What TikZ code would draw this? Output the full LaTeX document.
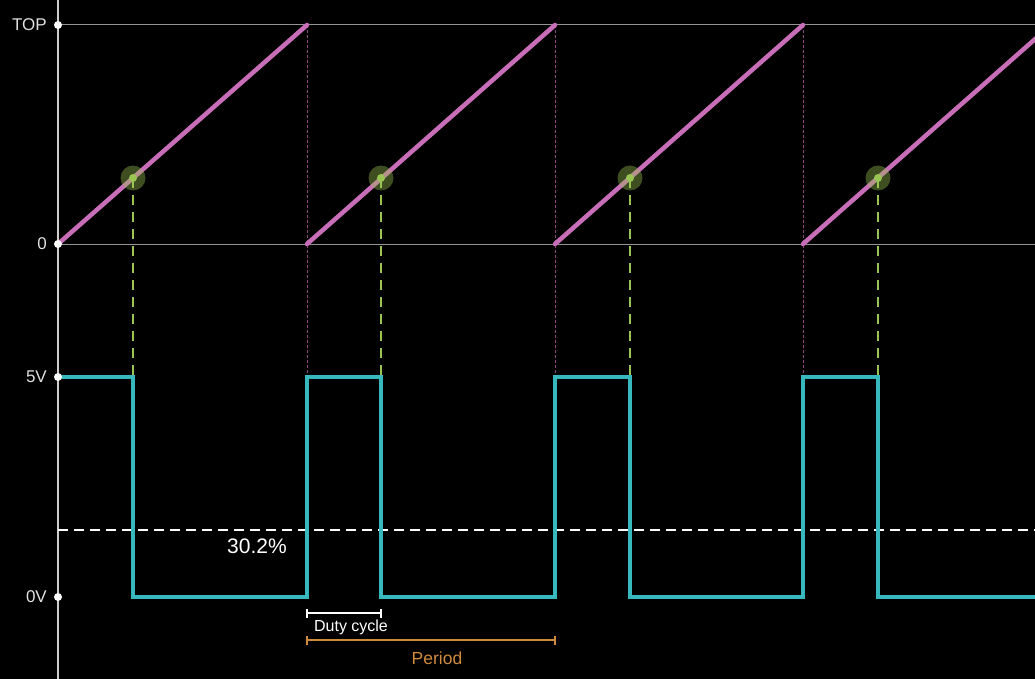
\documentclass[tikz,border=0pt]{standalone}
\usepackage{fontspec}
\setmainfont{Liberation Sans}
\begin{document}
\begin{tikzpicture}[x=1pt,y=-1pt,
  grid/.style={draw=gray!85,line width=1pt},
  axisline/.style={draw=black!20,line width=1.6pt},
  sepline/.style={draw=sepc,line width=1pt,dash pattern=on 3pt off 2pt},
  saw/.style={draw=sawc,line width=4.5pt,line cap=round},
  sq/.style={draw=sqc,line width=4.5pt,line join=miter},
  cmpline/.style={draw=grn,line width=2.6pt,dash pattern=on 10pt off 7pt},
  halo/.style={circle,fill=grn,fill opacity=0.4,minimum size=25pt,inner sep=0pt},
  dot/.style={circle,fill=grn,minimum size=8pt,inner sep=0pt},
  axdot/.style={circle,fill=white,minimum size=8pt,inner sep=0pt},
  axlabel/.style={text=black!12,font=\fontsize{17}{19}\selectfont,anchor=east,inner sep=0pt},
]
\definecolor{sawc}{HTML}{C86EB9}
\definecolor{sqc}{HTML}{36B8BE}
\definecolor{grn}{HTML}{9BC552}
\definecolor{orng}{HTML}{D08A3E}
\definecolor{sepc}{HTML}{8A4A80}
\fill[black] (0,0) rectangle (1035,679);
\useasboundingbox (0,0) rectangle (1035,679);
% grid lines
\draw[grid] (58,25) -- (1035,25);
\draw[grid] (58,244) -- (1035,244);
% axis
\draw[axisline] (58,0) -- (58,679);
% period separators
\foreach \x in {307,555,803} \draw[sepline] (\x,25) -- (\x,377);
% dashed average line
\draw[white,line width=2pt,dash pattern=on 10pt off 6pt] (58,530) -- (1035,530);
% sawtooth
\draw[saw] (58,244) -- (307,25);
\draw[saw] (307,244) -- (555,25);
\draw[saw] (555,244) -- (803,25);
\begin{scope}
\clip (0,0) rectangle (1035,679);
\draw[saw] (803,244) -- (1051,25);
\end{scope}
% square wave
\begin{scope}
\clip (58,0) rectangle (1035,679);
\draw[sq] (58,377) -- (133,377) -- (133,597) -- (307,597) -- (307,377) -- (381,377) -- (381,597)
  -- (555,597) -- (555,377) -- (630,377) -- (630,597) -- (803,597) -- (803,377) -- (878,377)
  -- (878,597) -- (1040,597);
\end{scope}
% compare points
\foreach \x [count=\i] in {133,381,630,878} {
  \draw[cmpline] (\x,178) -- (\x,377);
  \node[halo] (h\i) at (\x,178) {};
  \node[dot] (c\i) at (\x,178) {};
}
% axis dots and labels
\node[axdot] (dTop) at (58,25) {};
\node[axdot] (dZero) at (58,244) {};
\node[axdot] (dFive) at (58,377) {};
\node[axdot] (dGnd) at (58,597) {};
\node[axlabel] (lTop) at (47,25) {TOP};
\node[axlabel] (lZero) at (47,244) {0};
\node[axlabel] (lFive) at (47,377) {5V};
\node[axlabel] (lGnd) at (47,597) {0V};
% duty %
\node[text=white,font=\fontsize{21}{23}\selectfont] (pct) at (257,546) {30.2\%};
% duty cycle bracket
\coordinate (d1) at (307,613);
\coordinate (d2) at (381,613);
\draw[white,line width=2.2pt] (d1) -- (d2);
\draw[white,line width=2.2pt] ([yshift=-4.5pt]d1) -- ([yshift=4.5pt]d1);
\draw[white,line width=2.2pt] ([yshift=-4.5pt]d2) -- ([yshift=4.5pt]d2);
\node[text=white,font=\fontsize{16}{18}\selectfont] (dlab) at (351,627) {Duty cycle};
% period bracket
\coordinate (p1) at (307,640);
\coordinate (p2) at (555,640);
\draw[orng,line width=2.2pt] (p1) -- (p2);
\draw[orng,line width=2.2pt] ([yshift=-4.5pt]p1) -- ([yshift=4.5pt]p1);
\draw[orng,line width=2.2pt] ([yshift=-4.5pt]p2) -- ([yshift=4.5pt]p2);
\node[text=orng,font=\fontsize{17.5}{19}\selectfont] (plab) at (437,658) {Period};
\end{tikzpicture}
\end{document}
